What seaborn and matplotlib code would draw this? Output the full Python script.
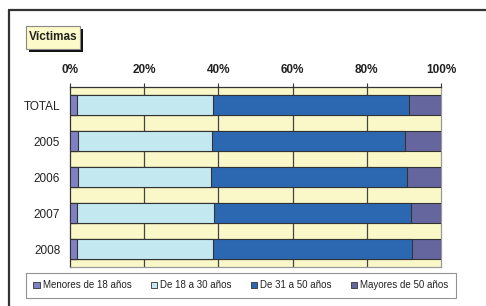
import numpy as np
import pandas as pd
import matplotlib
matplotlib.use("Agg")
import matplotlib.pyplot as plt
import seaborn as sns
from matplotlib.patches import Rectangle
from matplotlib.lines import Line2D

categories = ["TOTAL", "2005", "2006", "2007", "2008"]
series_names = ["Menores de 18 años", "De 18 a 30 años", "De 31 a 50 años", "Mayores de 50 años"]
menores = [1.8, 2.2, 2.2, 1.8, 1.8]
de18a30 = [36.7, 36.2, 35.9, 37.0, 36.7]
de31a50 = [53.0, 52.0, 52.8, 53.1, 53.7]
mayores = [8.5, 9.6, 9.1, 8.1, 7.8]
x_ticks = [0, 20, 40, 60, 80, 100]
x_labels = ["0%", "20%", "40%", "60%", "80%", "100%"]
colors = ["#8080C4", "#C4E8F0", "#2C68B2", "#66669E"]

sns.set_style("white")
plt.rcParams['font.family'] = ['Liberation Sans', 'DejaVu Sans']

vals = np.array([menores, de18a30, de31a50, mayores])
cum = np.cumsum(vals, axis=0)

fig = plt.figure(figsize=(4.86, 3.06), dpi=100)
ax = fig.add_axes([70/486, 39/306, 371/486, 180/306])
ax.set_facecolor("#FAF8C8")

# draw stacked bars: largest cumulative first
for i in range(3, -1, -1):
    df = pd.DataFrame({"cat": categories, "val": cum[i]})
    sns.barplot(data=df, x="val", y="cat", orient="h", color=colors[i],
                width=0.56, edgecolor="#333333", linewidth=0.8,
                saturation=1, ax=ax, zorder=3)

ax.set_xlim(0, 100)
ax.set_ylim(4.5, -0.5)
ax.set_xlabel("")
ax.set_ylabel("")
ax.xaxis.tick_top()
ax.set_xticks(x_ticks)
ax.set_xticklabels(x_labels, fontsize=8.5, fontweight="bold", color="#222222")
ax.tick_params(axis="x", direction="out", length=3, width=0.8, color="#333333", pad=5)
for xv in x_ticks[1:-1]:
    ax.axvline(xv, color="#444444", linewidth=0.9, zorder=1)

ax.set_yticks(range(len(categories)))
ax.set_yticklabels(categories, fontsize=8.5, color="#222222")
ax.tick_params(axis="y", which="major", length=0, pad=7)
ax.set_yticks(np.arange(-0.5, 5.0, 1.0), minor=True)
ax.tick_params(axis="y", which="minor", direction="out", length=4, width=0.8, color="#333333")

for s in ["top", "left"]:
    ax.spines[s].set_color("#333333")
    ax.spines[s].set_linewidth(0.9)
for s in ["bottom", "right"]:
    ax.spines[s].set_color("#999999")
    ax.spines[s].set_linewidth(0.9)

# outer frame (top and left visible)
fig.add_artist(Line2D([9/486, 9/486], [0, 1 - 10/306], transform=fig.transFigure,
                      color="#333333", linewidth=1.6))
fig.add_artist(Line2D([9/486, 1], [1 - 10/306, 1 - 10/306], transform=fig.transFigure,
                      color="#333333", linewidth=1.6))

# title box with shadow
fig.add_artist(Rectangle((29/486, 1 - 52/306), 54/486, 23/306, transform=fig.transFigure,
                         facecolor="#111111", edgecolor="none"))
fig.add_artist(Rectangle((26/486, 1 - 49/306), 54/486, 23/306, transform=fig.transFigure,
                         facecolor="#FCFAC8", edgecolor="#888888", linewidth=0.8))
fig.text(53/486, 1 - 37.5/306, "Víctimas", fontsize=8.5, fontweight="bold",
         ha="center", va="center", color="#222222")

# legend
handles = [Rectangle((0, 0), 1, 1, facecolor=c, edgecolor="#333333", linewidth=0.6) for c in colors]
leg = fig.legend(handles, series_names, loc="center", bbox_to_anchor=(241/486, 1 - 285.5/306),
                 ncol=4, fontsize=7, frameon=True, fancybox=False, handlelength=0.65,
                 handleheight=0.65, handletextpad=0.3, columnspacing=2.0, borderpad=0.8,
                 borderaxespad=0, labelcolor="#222222")
leg.get_frame().set_edgecolor("#777777")
leg.get_frame().set_linewidth(0.8)

fig.savefig("out.png", dpi=100)
